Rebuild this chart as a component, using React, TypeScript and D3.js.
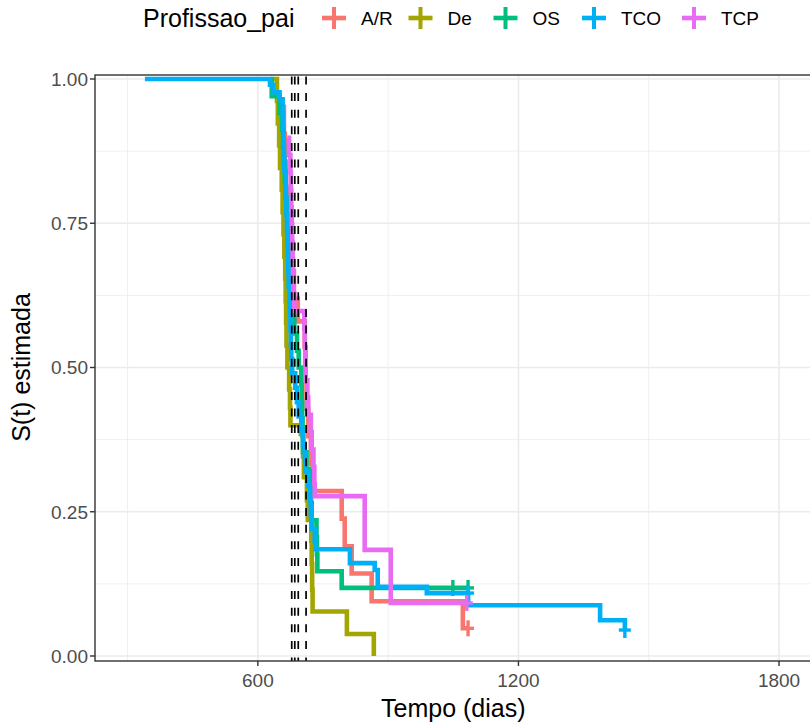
import React from 'react';
import * as d3 from 'd3';

// ---- data (time in days, estimated survival) ----
const groups = ['A/R', 'De', 'OS', 'TCO', 'TCP'];
const groupColors = ['#F8766D', '#A3A500', '#00BF7D', '#00B0F6', '#E76BF3'];

const curveAR: [number, number][] = [
  [658, 0.952], [660, 0.905], [662, 0.857], [665, 0.81], [668, 0.762], [672, 0.714],
  [677, 0.667], [683, 0.619], [692, 0.58], [708, 0.535], [710, 0.476], [712, 0.429], [716, 0.381],
  [722, 0.333], [726, 0.286], [793, 0.238], [800, 0.19], [816, 0.143], [862, 0.095], [1072, 0.048],
  [1084, 0.048],
];
const curveDe: [number, number][] = [
  [636, 1], [644, 0.962], [646, 0.923], [649, 0.885], [651, 0.846], [655, 0.808], [657, 0.769],
  [659, 0.731], [661, 0.692], [663, 0.654], [664, 0.615], [665, 0.577], [666, 0.538], [668, 0.5],
  [672, 0.462], [674, 0.43], [675, 0.4], [699, 0.385], [704, 0.346], [706, 0.31], [713, 0.27],
  [715, 0.236], [723, 0.2], [724, 0.16], [725, 0.115], [726, 0.077], [805, 0.038], [867, 0],
];
const curveOS: [number, number][] = [
  [630, 1], [632, 0.97], [650, 0.941], [656, 0.912], [658, 0.882], [660, 0.853], [662, 0.824],
  [664, 0.794], [666, 0.765], [668, 0.735], [670, 0.706], [672, 0.676], [675, 0.647], [677, 0.618],
  [680, 0.588], [684, 0.559], [690, 0.529], [694, 0.5], [700, 0.471], [701, 0.441], [702, 0.412],
  [703, 0.382], [704, 0.353], [712, 0.324], [720, 0.294], [722, 0.265], [724, 0.235], [735, 0.206],
  [736, 0.176], [737, 0.147], [793, 0.118], [1084, 0.118],
];
const curveTCO: [number, number][] = [
  [340, 1], [628, 0.99], [635, 0.977], [650, 0.965], [657, 0.94], [658, 0.915], [659, 0.89],
  [660, 0.865], [661, 0.84], [664, 0.815], [665, 0.79], [666, 0.765], [667, 0.74], [668, 0.715],
  [669, 0.69], [670, 0.665], [671, 0.64], [673, 0.615], [674, 0.59], [675, 0.565], [676, 0.54],
  [677, 0.515], [679, 0.49], [686, 0.465], [690, 0.44], [694, 0.415], [700, 0.39], [704, 0.365],
  [708, 0.34], [710, 0.32], [716, 0.295], [720, 0.27], [722, 0.245], [724, 0.22], [731, 0.2],
  [733, 0.185], [812, 0.161], [869, 0.149], [876, 0.12], [989, 0.109], [1084, 0.088],
  [1388, 0.062], [1445, 0.045],
];
const curveTCP: [number, number][] = [
  [668, 0.898], [672, 0.868], [675, 0.838], [676, 0.808], [677, 0.778], [678, 0.748], [679, 0.718],
  [680, 0.688], [681, 0.658], [682, 0.628], [684, 0.598], [707, 0.568], [708, 0.538], [709, 0.508],
  [710, 0.478], [714, 0.448], [716, 0.418], [722, 0.388], [724, 0.358], [728, 0.328], [730, 0.298],
  [731, 0.277], [846, 0.184], [906, 0.092], [1081, 0.092],
];
const curves = [curveAR, curveDe, curveOS, curveTCO, curveTCP];

// censoring marks
const censorAR: [number, number][] = [[1084, 0.048]];
const censorDe: [number, number][] = [];
const censorOS: [number, number][] = [[1049, 0.118], [1084, 0.118]];
const censorTCO: [number, number][] = [[1084, 0.109], [1445, 0.045]];
const censorTCP: [number, number][] = [[1081, 0.092]];
const censors = [censorAR, censorDe, censorOS, censorTCO, censorTCP];

// median reference lines
const medianLines = [678, 685, 693, 711];

const xMajor = [600, 1200, 1800];
const xMinor = [300, 900, 1500];
const yMajor = [0, 0.25, 0.5, 0.75, 1];
const yMinor = [0.125, 0.375, 0.625, 0.875];
const yLabels = ['0.00', '0.25', '0.50', '0.75', '1.00'];

const W = 810;
const H = 726;
const P = { left: 95, right: 811.6, top: 75, bottom: 661 };

export default function App() {
  const x = d3.scaleLinear().domain([225, 1875]).range([P.left, P.right]);
  const y = d3.scaleLinear().domain([0, 1]).range([656, 79]);
  const line = d3
    .line<[number, number]>()
    .x((d) => x(d[0]))
    .y((d) => y(d[1]))
    .curve(d3.curveStepAfter);

  const font = 'Liberation Sans, Arial, Helvetica, sans-serif';
  const legendKeys = [334, 420.5, 505.5, 594, 694];
  const arm = 6;

  return (
    <svg width={W} height={H} style={{ position: 'absolute', left: 0, top: 0, background: '#fff' }}
      fontFamily={font}>
      <defs>
        <clipPath id="panel">
          <rect x={P.left} y={P.top} width={P.right - P.left} height={P.bottom - P.top} />
        </clipPath>
      </defs>
      <rect x={0} y={0} width={W} height={H} fill="#fff" />
      {/* grid */}
      <g clipPath="url(#panel)">
        {yMinor.map((v) => (
          <line key={'ym' + v} x1={P.left} x2={P.right} y1={y(v)} y2={y(v)} stroke="#EBEBEB" strokeWidth={0.8} />
        ))}
        {xMinor.map((v) => (
          <line key={'xm' + v} x1={x(v)} x2={x(v)} y1={P.top} y2={P.bottom} stroke="#EBEBEB" strokeWidth={0.8} />
        ))}
        {yMajor.map((v) => (
          <line key={'yM' + v} x1={P.left} x2={P.right} y1={y(v)} y2={y(v)} stroke="#EBEBEB" strokeWidth={1.6} />
        ))}
        {xMajor.map((v) => (
          <line key={'xM' + v} x1={x(v)} x2={x(v)} y1={P.top} y2={P.bottom} stroke="#EBEBEB" strokeWidth={1.6} />
        ))}
        {curves.map((c, i) => (
          <g key={groups[i]}>
            <path d={line(c) || ''} fill="none" stroke={groupColors[i]} strokeWidth={4.6} />
            {censors[i].map((p, j) => (
              <g key={j} stroke={groupColors[i]} strokeWidth={3.4}>
                <line x1={x(p[0]) - arm} x2={x(p[0]) + arm} y1={y(p[1])} y2={y(p[1])} />
                <line x1={x(p[0])} x2={x(p[0])} y1={y(p[1]) - arm - 2} y2={y(p[1]) + arm + 2} />
              </g>
            ))}
          </g>
        ))}
        {medianLines.map((v) => (
          <line key={'md' + v} x1={x(v)} x2={x(v)} y1={P.top} y2={P.bottom} stroke="#000"
            strokeWidth={1.7} strokeDasharray="8 8.6" strokeDashoffset={-1.5} />
        ))}
      </g>
      <rect x={P.left} y={P.top} width={P.right - P.left} height={P.bottom - P.top} fill="none"
        stroke="#333333" strokeWidth={1.4} />
      {/* y axis */}
      {yMajor.map((v, i) => (
        <g key={'yt' + v}>
          <line x1={P.left - 5} x2={P.left} y1={y(v)} y2={y(v)} stroke="#333333" strokeWidth={1.4} />
          <text x={P.left - 7} y={y(v)} dy="0.36em" textAnchor="end" fontSize={19} fill="#4D4D4D">
            {yLabels[i]}
          </text>
        </g>
      ))}
      {/* x axis */}
      {xMajor.map((v) => (
        <g key={'xt' + v}>
          <line x1={x(v)} x2={x(v)} y1={P.bottom} y2={P.bottom + 5} stroke="#333333" strokeWidth={1.4} />
          <text x={x(v)} y={P.bottom + 26} textAnchor="middle" fontSize={19} fill="#4D4D4D">
            {v}
          </text>
        </g>
      ))}
      <text x={(P.left + P.right) / 2} y={717} textAnchor="middle" fontSize={25} fill="#000">
        Tempo (dias)
      </text>
      <text transform={`translate(30, ${(79 + 656) / 2}) rotate(-90)`} textAnchor="middle" fontSize={25} fill="#000">
        S(t) estimada
      </text>
      {/* legend */}
      <text x={143} y={27} fontSize={25} fill="#000">Profissao_pai</text>
      {groups.map((g, i) => (
        <g key={'lg' + g}>
          <g stroke={groupColors[i]}>
            <line x1={legendKeys[i] - 12} x2={legendKeys[i] + 12} y1={18} y2={18} strokeWidth={4.6} />
            <line x1={legendKeys[i]} x2={legendKeys[i]} y1={18 - 11} y2={18 + 11} strokeWidth={4} />
          </g>
          <text x={legendKeys[i] + 27} y={18} dy="0.36em" fontSize={19} fill="#000">{g}</text>
        </g>
      ))}
    </svg>
  );
}
